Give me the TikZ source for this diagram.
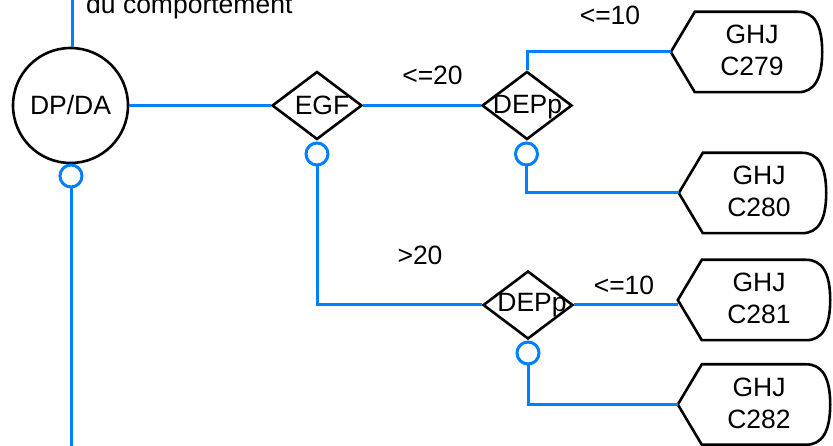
\documentclass[tikz,border=0pt]{standalone}
\usepackage{fontspec}
\setmainfont{Liberation Sans}
\usetikzlibrary{shapes.geometric}
\definecolor{lnblue}{RGB}{0,127,255}
\tikzset{
  blueline/.style={draw=lnblue, line width=3pt},
  shapeline/.style={draw=black, line width=2.6pt},
  txt/.style={font=\fontsize{26.5}{32}\selectfont, inner sep=0pt, text=black},
  bigcirc/.style={circle, shapeline, minimum size=115pt, inner sep=0pt},
  port/.style={circle, blueline, minimum size=22pt, inner sep=0pt},
  decision/.style={diamond, shapeline, minimum width=90pt, minimum height=68pt, inner sep=0pt},
  dispbox/.style={rectangle, inner sep=0pt, minimum height=80pt},
}
\newcommand\dispoutline[1]{%
  \draw[shapeline] (#1.west) -- ([xshift=24pt]#1.north west) -- ([xshift=-24pt]#1.north east)
    .. controls ([xshift=-8pt]#1.north east) and ([yshift=-13.3pt]#1.north east) .. (#1.east)
    .. controls ([yshift=13.3pt]#1.south east) and ([xshift=-8pt]#1.south east) .. ([xshift=-24pt]#1.south east)
    -- ([xshift=24pt]#1.south west) -- cycle;}
\begin{document}
\begin{tikzpicture}[x=1pt,y=-1pt]
\useasboundingbox (0,0) rectangle (833,446);

% main shapes
\node[bigcirc, txt] (dpda) at (70.5,105.5) {DP/DA};
\node[port] (p0) at (71,176) {};
\node[decision] (egf) at (317,105.5) {};
\node[txt, anchor=base] (tegf) at (322,115) {EGF};
\node[port] (p1) at (317,154) {};
\node[decision] (dep1) at (527,105.5) {};
\node[txt, anchor=base] (tdep1) at (527.5,114) {DEPp};
\node[port] (p2) at (526.5,154) {};
\node[decision] (dep2) at (528,305) {};
\node[txt, anchor=base] (tdep2) at (532,311.7) {DEPp};
\node[port] (p3) at (528,353) {};

% terminal (display) shapes
\node[dispbox, minimum width=151pt] (c279) at (746.5,52) {};
\node[txt, align=center] (t279) at (752,50) {GHJ\\C279};
\node[dispbox, minimum width=147pt] (c280) at (752.5,193) {};
\node[txt, align=center] (t280) at (759,191.7) {GHJ\\C280};
\node[dispbox, minimum width=152pt] (c281) at (754,300) {};
\node[txt, align=center] (t281) at (759,298.3) {GHJ\\C281};
\node[dispbox, minimum width=152pt] (c282) at (754,404.5) {};
\node[txt, align=center] (t282) at (759,403.3) {GHJ\\C282};
\dispoutline{c279}
\dispoutline{c280}
\dispoutline{c281}
\dispoutline{c282}

% labels
\node[txt, anchor=base west] (note) at (86,14) {du comportement};
\node[txt, anchor=base] (l20) at (432.5,85) {<=20};
\node[txt, anchor=base] (g20) at (420,265) {>20};
\node[txt, anchor=base] (l10a) at (610,25) {<=10};
\node[txt, anchor=base] (l10b) at (624,295) {<=10};

% free ends
\coordinate (topend) at (72,0);
\coordinate (botend) at (71,446);

% connectors
\draw[blueline] (topend) -- (topend |- dpda.north);
\draw[blueline] (dpda.east) -- (egf.west);
\draw[blueline] (egf.east) -- (dep1.west);
\draw[blueline] (dep1.north) |- (c279.west);
\draw[blueline] (p2.south) |- (c280.west);
\draw[blueline] (p1.south) |- (dep2.west);
\draw[blueline] (dep2.east) -- (dep2.east -| c281.west);
\draw[blueline] (p3.south) |- (c282.west);
\draw[blueline] (p0.south) -- (botend);
\end{tikzpicture}
\end{document}
